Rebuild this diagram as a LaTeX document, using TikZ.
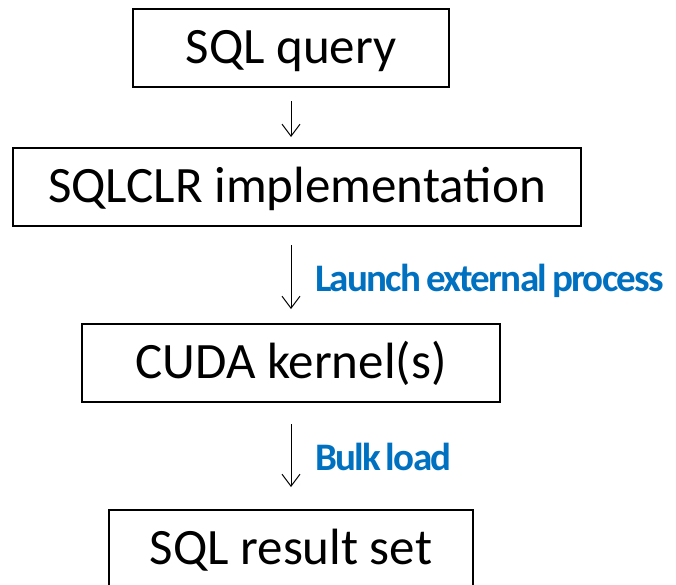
\documentclass[tikz,border=0pt]{standalone}
\usepackage{fontspec}
\setmainfont{Carlito}
\newfontfamily\notefont{Carlito}[LetterSpace=-4.5, WordSpace=0.7]
\usetikzlibrary{arrows.meta}
\definecolor{notegblue}{RGB}{0,112,192}
\tikzset{
    stage/.style = {rectangle, draw=black, line width=2pt, minimum height=78pt,
                    text height=33pt, text depth=3pt, inner sep=0pt,
                    font=\fontsize{51}{60}\selectfont},
    flow/.style = {-{Straight Barb[length=12pt,width=18pt]}, line width=1pt},
    note/.style = {anchor=base west, inner sep=0pt, text=notegblue,
                   font=\notefont\fontsize{39}{46}\selectfont\bfseries}
}

\begin{document}
\begin{tikzpicture}[x=1pt, y=-1pt]
  \useasboundingbox (0,0) rectangle (676,584);
  \clip (0,0) rectangle (676,584);

  \node[stage, minimum width=316pt] (query) at (291,48) {SQL query};
  \node[stage, minimum width=568pt] (clr) at (297,187) {SQLCLR implementation};
  \node[stage, minimum width=418pt] (cuda) at (291,363) {CUDA kernel(s)};
  \node[stage, minimum width=364pt] (result) at (291,549) {SQL result set};

  \draw[flow, shorten <=13pt, shorten >=10pt] (query.south) -- (query.south |- clr.north);
  \draw[flow, shorten <=18pt, shorten >=14pt] (query.south |- clr.south) -- (cuda.north);
  \draw[flow, shorten <=21pt, shorten >=22pt] (cuda.south) -- (result.north);

  \node[note] (launch) at (315,291) {Launch external process};
  \node[note] (bulk) at (315,470) {Bulk load};
\end{tikzpicture}
\end{document}
